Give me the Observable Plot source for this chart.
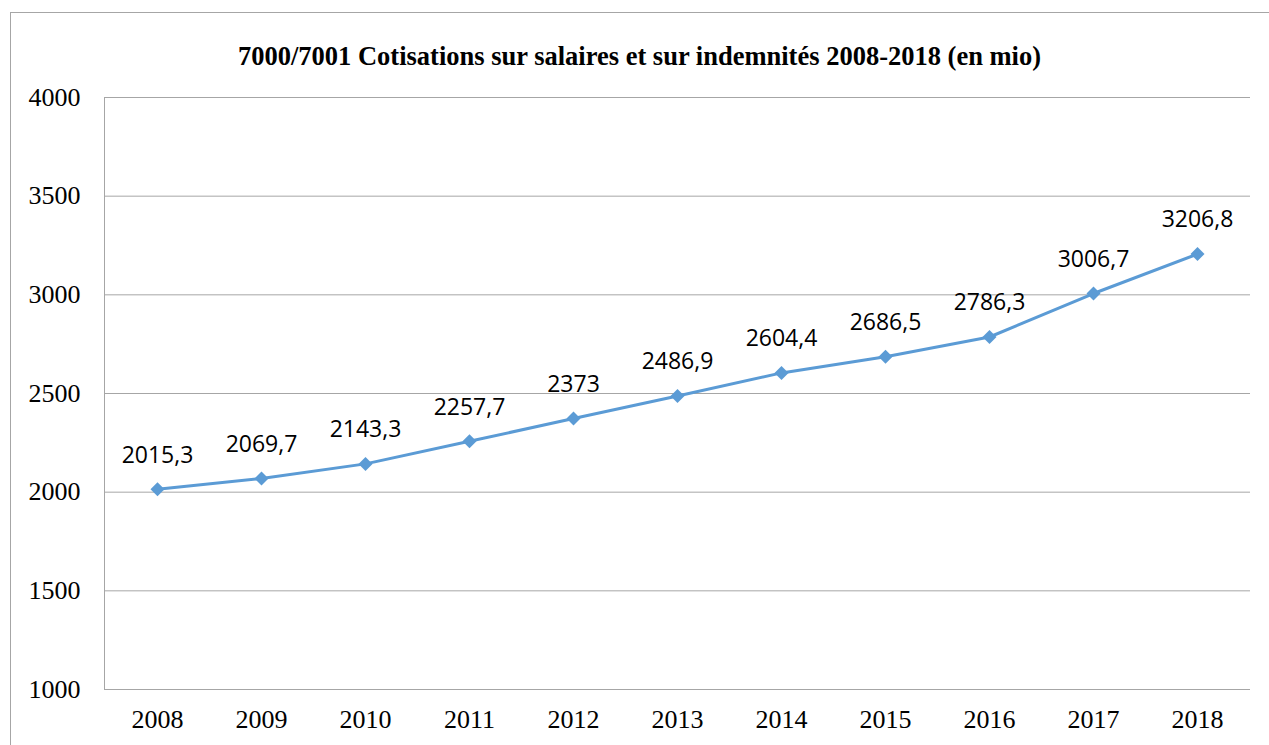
<!DOCTYPE html>
<html>
<head>
<meta charset="utf-8">
<script src="https://cdn.jsdelivr.net/npm/d3@7"></script>
<script src="https://cdn.jsdelivr.net/npm/@observablehq/plot@0.6"></script>
<style>
  html, body { margin: 0; padding: 0; background: #fff; }
  #wrap { position: relative; width: 1269px; height: 745px; overflow: hidden; }
  #frame { position: absolute; left: 10px; top: 12px; width: 1300px; height: 800px; border: 1px solid #a6a6a6; box-sizing: border-box; }
  #title { position: absolute; left: 0; width: 1279px; top: 41px; text-align: center; line-height: 1;
           font: bold 26.5px "Liberation Serif", "Times New Roman", serif; color: #000; }
  #chart { position: absolute; left: 0; top: 0; }
</style>
</head>
<body>
<div id="wrap">
  <div id="frame"></div>
  <div id="title">7000/7001 Cotisations sur salaires et sur indemnités 2008-2018 (en mio)</div>
  <div id="chart"></div>
</div>
<script>
const years = ["2008","2009","2010","2011","2012","2013","2014","2015","2016","2017","2018"];
const values = [2015.3, 2069.7, 2143.3, 2257.7, 2373, 2486.9, 2604.4, 2686.5, 2786.3, 3006.7, 3206.8];
const yTicks = [1000, 1500, 2000, 2500, 3000, 3500, 4000];

const data = years.map((y, i) => ({year: y, value: values[i], label: String(values[i]).replace(".", ",")}));

// left axis line drawn at the frame's left edge, from the plot dimensions
function leftAxisLine(index, scales, values, dimensions) {
  const {marginLeft, marginTop, height, marginBottom} = dimensions;
  const line = document.createElementNS("http://www.w3.org/2000/svg", "line");
  line.setAttribute("x1", marginLeft + 0.5);
  line.setAttribute("x2", marginLeft + 0.5);
  line.setAttribute("y1", marginTop);
  line.setAttribute("y2", height - marginBottom);
  line.setAttribute("stroke", "#a6a6a6");
  return line;
}

const chart = Plot.plot({
  width: 1269,
  height: 745,
  marginLeft: 104,
  marginRight: 19,
  marginTop: 97,
  marginBottom: 56,
  style: {background: "transparent", overflow: "visible"},
  x: {type: "point", domain: years, padding: 0.5, label: null},
  y: {domain: [1000, 4000], label: null},
  marks: [
    Plot.gridY(yTicks, {stroke: "#a6a6a6", strokeOpacity: 1, strokeWidth: 1}),
    leftAxisLine,
    Plot.axisY(yTicks, {tickSize: 0, tickPadding: 24, fontSize: 26, fontFamily: "Liberation Serif", fill: "#000", label: null, tickFormat: d => String(d)}),
    Plot.axisX(years, {tickSize: 0, tickPadding: 20, fontSize: 26, fontFamily: "Liberation Serif", fill: "#000", label: null}),
    Plot.line(data, {x: "year", y: "value", stroke: "#5b9bd5", strokeWidth: 3}),
    Plot.dot(data, {x: "year", y: "value", symbol: "diamond2", r: 6.3, fill: "#5b9bd5", stroke: "none"}),
    Plot.text(data, {x: "year", y: "value", text: "label", dy: -34, fontSize: 23, fontFamily: "Open Sans", fill: "#000"})
  ]
});
document.getElementById("chart").appendChild(chart);
</script>
</body>
</html>
